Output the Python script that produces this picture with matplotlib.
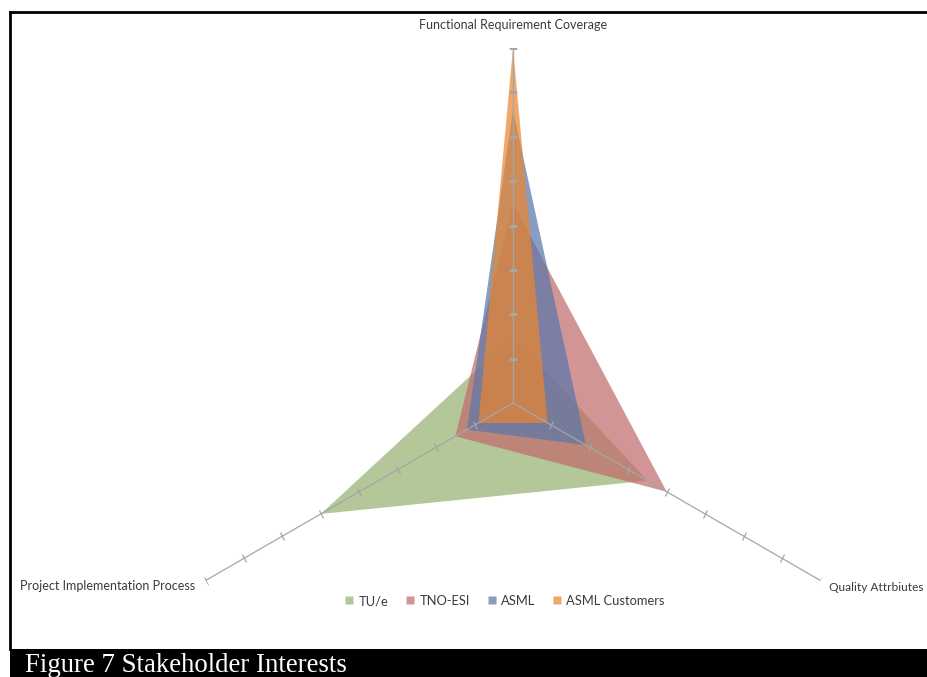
import numpy as np
import matplotlib.pyplot as plt
from matplotlib.markers import MarkerStyle
from matplotlib.transforms import Affine2D
from matplotlib.lines import Line2D
from matplotlib.patches import Rectangle

# axes of the radar (clockwise from top) and their direction on screen
categories = ['Functional Requirement Coverage', 'Quality Attrbiutes', 'Project Implementation Process']
angles_deg = [90, -30, 210]

# stakeholder interest scores, scale 0..8
series = ['TU/e', 'TNO-ESI', 'ASML', 'ASML Customers']
tue = [1.5, 3.5, 5.0]
tno_esi = [4.5, 4.0, 1.5]
asml = [6.6, 1.9, 1.2]
asml_customers = [8.0, 0.9, 0.9]
tick_vals = [1, 2, 3, 4, 5, 6, 7, 8]

colors = ['#98B270', '#C06C6C', '#5B77A9', '#EA8630']
alpha = 0.72
gray = '#a6a6a6'
txt = '#3a3a3a'

fig = plt.figure(figsize=(9.28, 6.77), dpi=100)
W, H = 928, 677
# polar axes centred at (513, 403) px with radius 355 px
cx, cy, R = 513, 403, 355
ax = fig.add_axes([(cx - R) / W, (H - cy - R) / H, 2 * R / W, 2 * R / H], projection='polar')
ax.set_ylim(0, 8)
ax.set_axis_off()

theta = np.radians(angles_deg)
th_closed = np.append(theta, theta[0])
for vals, c, name in zip([tue, tno_esi, asml, asml_customers], colors, series):
    ax.fill(th_closed, vals + vals[:1], color=c, alpha=alpha, lw=0, label=name, zorder=2)

# axis lines with perpendicular tick marks
for th, deg in zip(theta, angles_deg):
    ax.plot([th, th], [0, 8], color=gray, lw=0.9, zorder=5)
    m = MarkerStyle('_', transform=Affine2D().rotate_deg(deg + 90))
    ax.plot([th] * len(tick_vals), tick_vals, ls='none', marker=m, ms=6,
            mec=gray, mew=0.9, zorder=5)

font = 'Lato'
ax.annotate(categories[0], xy=(theta[0], 8), xytext=(0, 23), textcoords='offset pixels',
            ha='center', va='center', fontsize=9, color=txt, family=font)
ax.annotate(categories[1], xy=(theta[1], 8), xytext=(9, -7), textcoords='offset pixels',
            ha='left', va='center', fontsize=8.6, color=txt, family=font)
ax.annotate(categories[2], xy=(theta[2], 8), xytext=(-10, -6), textcoords='offset pixels',
            ha='right', va='center', fontsize=9, color=txt, family=font)

handles = [Line2D([], [], ls='none', marker='s', ms=6, mfc=c, mec='none', alpha=alpha) for c in colors]
fig.legend(handles, series, loc='center', bbox_to_anchor=(505 / W, 1 - 601 / H), ncol=4,
           frameon=False, handlelength=0.6, handletextpad=0.4, columnspacing=1.4,
           prop={'family': font, 'size': 9.3}, labelcolor=txt)

# page frame and caption band
fig.add_artist(Line2D([10 / W, 1], [1 - 12 / H] * 2, transform=fig.transFigure, color='k', lw=2))
fig.add_artist(Line2D([10 / W] * 2, [1 - 12 / H, 28 / H], transform=fig.transFigure, color='k', lw=2))
fig.add_artist(Rectangle((10 / W, 0), 1, 28 / H, transform=fig.transFigure, fc='k', ec='none'))
fig.text(25 / W, 5 / H, 'Figure 7 Stakeholder Interests', color='white', fontsize=19.3,
         family='Liberation Serif', va='baseline')

fig.savefig('out.png', dpi=100)
